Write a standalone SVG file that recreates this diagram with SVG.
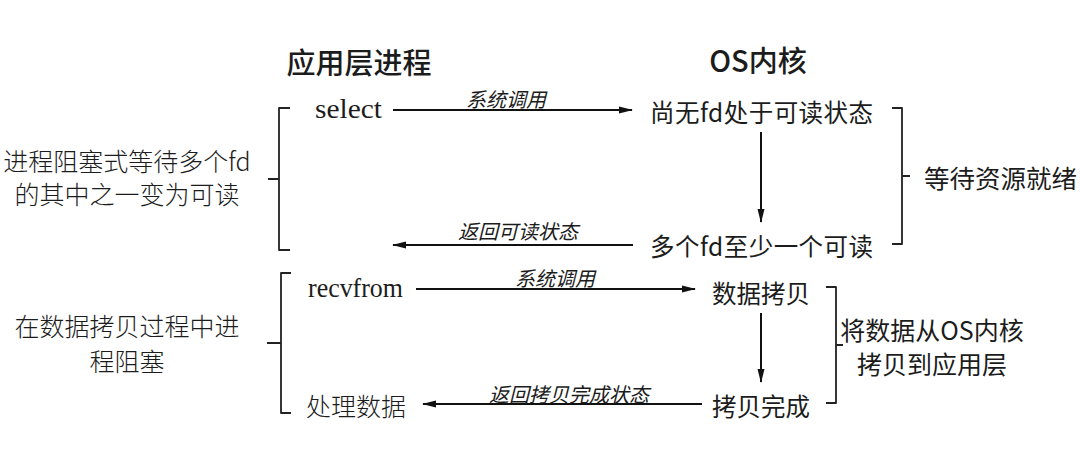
<svg xmlns="http://www.w3.org/2000/svg" width="1080" height="469" viewBox="0 0 1080 469">
<style>
  text { fill: #1c1c1c; font-family: "Noto Sans CJK SC", "Noto Sans", sans-serif; }
  .title { font-size: 29px; font-weight: 500; }
  .k { font-size: 24.5px; dominant-baseline: central; }
  .thin { font-size: 25px; font-weight: 300; dominant-baseline: central; }
  .lat { font-family: "Liberation Serif", serif; font-size: 27.5px; }
  .lbl { font-size: 20px; font-style: italic; dominant-baseline: central; text-anchor: middle; }
  .mid { text-anchor: middle; }
  .ln { stroke: #111; stroke-width: 2; fill: none; }
  .br { stroke: #222; stroke-width: 1.8; fill: none; stroke-linejoin: round; }
</style>
<defs>
  <marker id="ah" markerWidth="14" markerHeight="8" refX="13" refY="4" orient="auto" markerUnits="userSpaceOnUse">
    <path d="M0,0.5 L14,4 L0,7.5 Z" fill="#111"/>
  </marker>
</defs>
<rect width="1080" height="469" fill="#ffffff"/>

<g id="titles">
  <text class="title" x="359" y="61" text-anchor="middle" dominant-baseline="central">应用层进程</text>
  <text class="title" x="758" y="59" text-anchor="middle" dominant-baseline="central">OS内核</text>
</g>

<g id="node-select"><text class="lat" x="315" y="118" textLength="67" lengthAdjust="spacingAndGlyphs">select</text></g>
<g id="node-nofd"><text class="k" x="650" y="111" textLength="223" lengthAdjust="spacing">尚无fd处于可读状态</text></g>
<g id="node-somefd"><text class="k" x="650" y="245" textLength="223" lengthAdjust="spacing">多个fd至少一个可读</text></g>
<g id="node-recvfrom"><text class="lat" x="308" y="297" textLength="95" lengthAdjust="spacingAndGlyphs">recvfrom</text></g>
<g id="node-copy"><text class="k" x="712" y="292">数据拷贝</text></g>
<g id="node-copydone"><text class="k" x="712" y="405">拷贝完成</text></g>
<g id="node-process"><text class="thin" x="306" y="405">处理数据</text></g>

<g id="note-left-1">
  <text class="thin mid" x="127" y="160">进程阻塞式等待多个fd</text>
  <text class="thin mid" x="127" y="193">的其中之一变为可读</text>
</g>
<g id="note-left-2">
  <text class="thin mid" x="127" y="325">在数据拷贝过程中进</text>
  <text class="thin mid" x="127" y="360">程阻塞</text>
</g>
<g id="note-right-1"><text class="k" x="924" y="176" style="font-size:25.5px">等待资源就绪</text></g>
<g id="note-right-2">
  <text class="k mid" x="932" y="329" style="font-size:25px">将数据从OS内核</text>
  <text class="k mid" x="932" y="363" style="font-size:25px">拷贝到应用层</text>
</g>

<g id="brackets">
  <path class="br" d="M290,108 H279 V250 H290 M279,179 H268"/>
  <path class="br" d="M291,273 H281 V413 H291 M281,343 H267"/>
  <path class="br" d="M892,108 H902 V244 H892 M902,176 H910"/>
  <path class="br" d="M826,287 H836 V403 H826 M836,345 H843"/>
</g>

<g id="connectors">
  <line class="ln" x1="393" y1="110" x2="632" y2="110" marker-end="url(#ah)"/>
  <text class="lbl" x="506" y="98">系统调用</text>
  <line class="ln" x1="761" y1="132" x2="761" y2="222" marker-end="url(#ah)"/>
  <line class="ln" x1="633" y1="245" x2="393" y2="245" marker-end="url(#ah)"/>
  <text class="lbl" x="518" y="230">返回可读状态</text>
  <line class="ln" x1="416" y1="289" x2="695" y2="289" marker-end="url(#ah)"/>
  <text class="lbl" x="555" y="277">系统调用</text>
  <line class="ln" x1="761" y1="313" x2="761" y2="382" marker-end="url(#ah)"/>
  <line class="ln" x1="702" y1="404" x2="423" y2="404" marker-end="url(#ah)"/>
  <text class="lbl" x="569" y="393">返回拷贝完成状态</text>
</g>
</svg>
